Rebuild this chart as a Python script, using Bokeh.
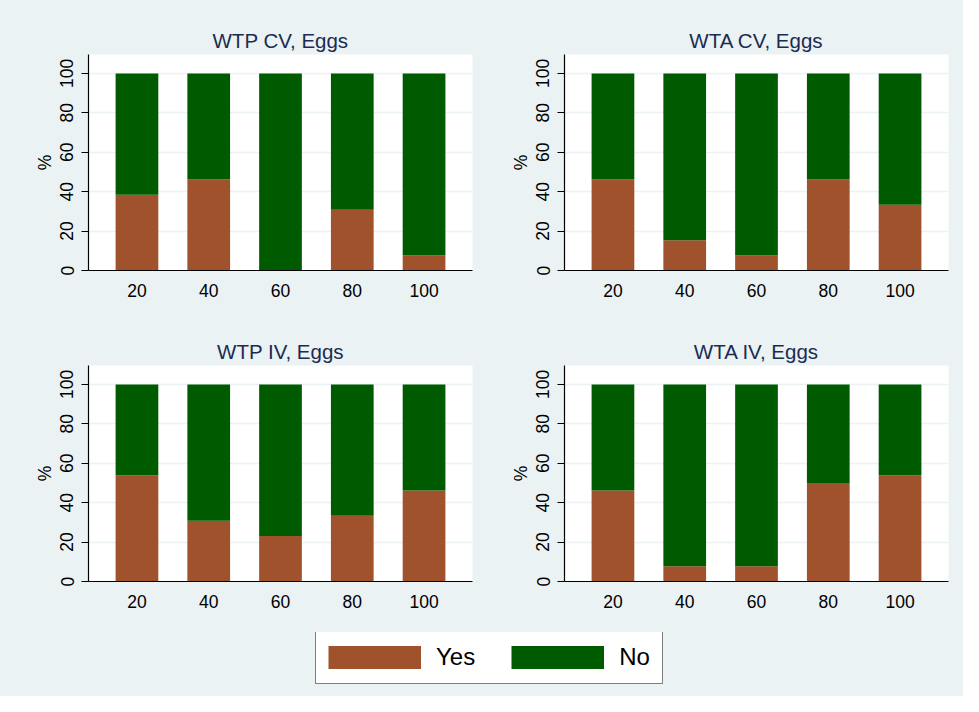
from bokeh.plotting import figure
from bokeh.layouts import column, row
from bokeh.models import Legend, LegendItem, FixedTicker, Range1d, ColumnDataSource
from bokeh.embed import file_html
from bokeh.resources import INLINE

# ---- data ----
bids = ["20", "40", "60", "80", "100"]
wtp_cv_yes = [38.46, 46.15, 0.0, 30.77, 7.69]
wta_cv_yes = [46.15, 15.38, 7.69, 46.15, 33.33]
wtp_iv_yes = [53.85, 30.77, 23.08, 33.33, 46.15]
wta_iv_yes = [46.15, 7.69, 7.69, 50.0, 53.85]
panel_titles = ["WTP CV, Eggs", "WTA CV, Eggs", "WTP IV, Eggs", "WTA IV, Eggs"]
y_ticks = [0, 20, 40, 60, 80, 100]
legend_labels = ["Yes", "No"]

BG = "#EAF2F3"
YES_C = "#A0522D"
NO_C = "#005A00"
TITLE_C = "#1C2B50"
FONT = "Liberation Sans"


def make_source(yes):
    xs = list(range(len(bids)))
    no = [100 - v for v in yes]
    return ColumnDataSource(dict(x=xs, yes=yes, no=no, top=[100.0] * len(yes)))


def panel(title, yes, w, h, mb_left, mb_right, mb_top, mb_bottom):
    xs = list(range(len(bids)))
    src = make_source(yes)
    p = figure(width=w, height=h, output_backend="svg", toolbar_location=None,
               x_range=Range1d(-0.675, len(bids) - 1 + 0.675),
               y_range=Range1d(0, 109.6),
               min_border_left=mb_left, min_border_right=mb_right,
               min_border_top=mb_top, min_border_bottom=mb_bottom)
    p.background_fill_color = "white"
    p.border_fill_color = BG
    p.outline_line_color = None
    p.vbar(x="x", bottom=0, top="yes", width=0.595, source=src,
           fill_color=YES_C, line_color=None)
    p.vbar(x="x", bottom="yes", top="top", width=0.595, source=src,
           fill_color=NO_C, line_color=None)
    # title
    p.title.text = title
    p.title.align = "center"
    p.title.text_font = FONT
    p.title.text_font_size = "20.5px"
    p.title.text_font_style = "normal"
    p.title.text_color = TITLE_C
    p.title.standoff = 5
    # x axis
    xa = p.xaxis[0]
    xa.ticker = FixedTicker(ticks=xs)
    xa.major_label_overrides = {i: b for i, b in enumerate(bids)}
    xa.major_tick_line_color = None
    xa.minor_tick_line_color = None
    xa.major_label_standoff = 7
    xa.major_label_text_font = FONT
    xa.major_label_text_font_size = "17.5px"
    xa.major_label_text_color = "black"
    xa.axis_line_color = "black"
    xa.axis_line_width = 1.2
    # y axis
    ya = p.yaxis[0]
    ya.ticker = FixedTicker(ticks=y_ticks)
    ya.major_tick_out = 7
    ya.major_tick_in = 0
    ya.minor_tick_line_color = None
    ya.major_tick_line_color = "black"
    ya.major_label_orientation = "vertical"
    ya.major_label_standoff = 8
    ya.major_label_text_font = FONT
    ya.major_label_text_font_size = "17.5px"
    ya.major_label_text_color = "black"
    ya.axis_line_color = "black"
    ya.axis_line_width = 1.2
    ya.axis_label = "%"
    ya.axis_label_text_font = FONT
    ya.axis_label_text_font_size = "17.5px"
    ya.axis_label_text_font_style = "normal"
    ya.axis_label_text_color = "black"
    ya.axis_label_standoff = 3
    # grid
    p.xgrid.grid_line_color = None
    p.ygrid.ticker = FixedTicker(ticks=y_ticks)
    p.ygrid.grid_line_color = BG
    p.ygrid.grid_line_width = 1.5
    return p


TOTAL_W = 963
LEFT_W = 492
RIGHT_W = TOTAL_W - LEFT_W
ROW1_H = 317
ROW2_H = 315
LEG_H = 696 - ROW1_H - ROW2_H

p1 = panel(panel_titles[0], wtp_cv_yes, LEFT_W, ROW1_H, 88, 20, 54, 47)
p2 = panel(panel_titles[1], wta_cv_yes, RIGHT_W, ROW1_H, 72, 15, 54, 47)
p3 = panel(panel_titles[2], wtp_iv_yes, LEFT_W, ROW2_H, 88, 20, 48, 51)
p4 = panel(panel_titles[3], wta_iv_yes, RIGHT_W, ROW2_H, 72, 15, 48, 51)

# legend figure: key glyphs use the first panel's data, kept outside the view;
# thick butt-capped lines give full-size rectangular swatches in the key
lf = figure(width=TOTAL_W, height=LEG_H, output_backend="svg", toolbar_location=None,
            x_range=Range1d(1000, 1001), y_range=Range1d(1000, 1001),
            min_border_left=0, min_border_right=0, min_border_top=0, min_border_bottom=0)
lf.axis.visible = False
lf.grid.visible = False
lf.outline_line_color = None
lf.background_fill_color = BG
lf.border_fill_color = BG
key_src = make_source(wtp_cv_yes)
r_yes = lf.line(x="x", y="yes", source=key_src, line_color=YES_C, line_width=25,
                line_cap="butt")
r_no = lf.line(x="x", y="no", source=key_src, line_color=NO_C, line_width=25,
               line_cap="butt")
leg = Legend(items=[LegendItem(label=legend_labels[0], renderers=[r_yes]),
                    LegendItem(label=legend_labels[1], renderers=[r_no])],
             orientation="horizontal", location=(315, 12))
leg.glyph_width = 93
leg.glyph_height = 23
leg.label_height = 23
leg.label_standoff = 15
leg.spacing = 36
leg.padding = 12
leg.margin = 0
leg.label_text_font = FONT
leg.label_text_font_size = "24px"
leg.label_text_color = "black"
leg.border_line_color = "black"
leg.border_line_width = 1.5
leg.background_fill_color = "white"
leg.background_fill_alpha = 1.0
lf.add_layout(leg, "center")

layout = column(row(p1, p2, spacing=0), row(p3, p4, spacing=0), lf, spacing=0,
                styles={"background-color": BG})

open("out.html", "w").write(file_html(layout, INLINE))
